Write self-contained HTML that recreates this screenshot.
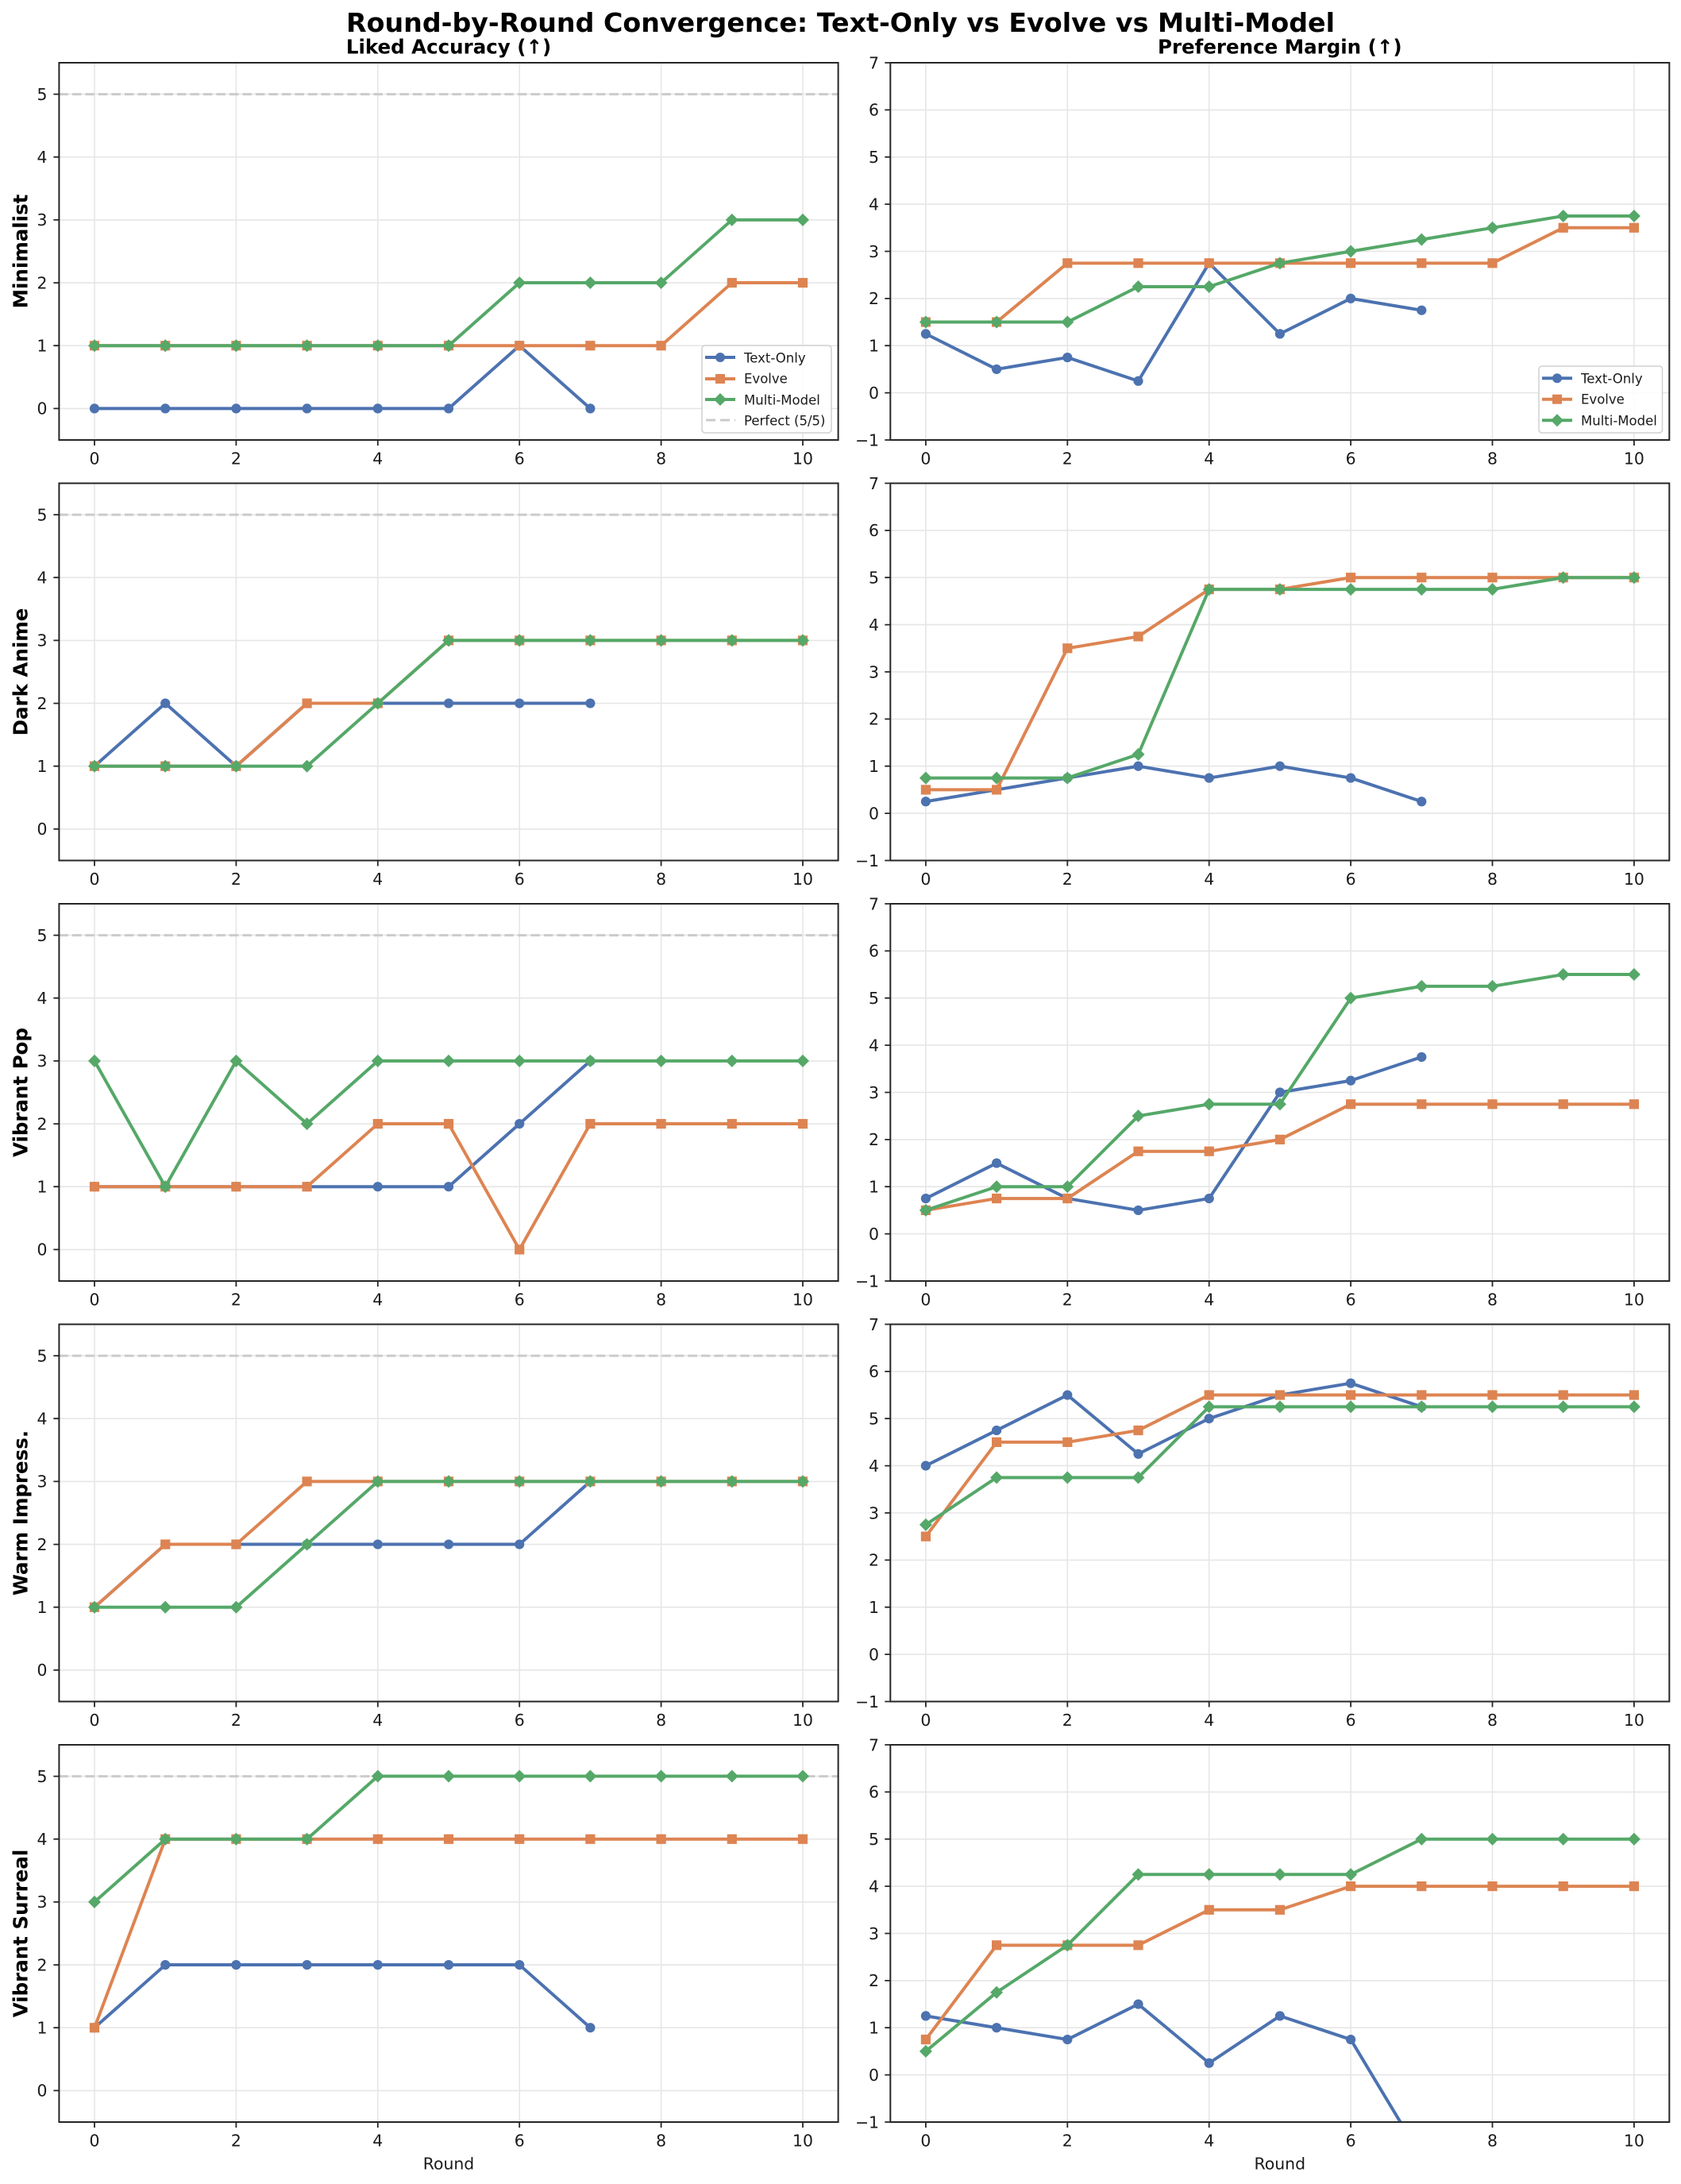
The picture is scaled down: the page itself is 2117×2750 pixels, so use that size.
<!DOCTYPE html>
<html>
<head>
<meta charset="utf-8">
<style>
html,body{margin:0;padding:0;background:#fff;}
svg{display:block;}
.gr{fill:none;stroke:#e6e6e6;stroke-width:1.6;}
.sp{fill:none;stroke:#262626;stroke-width:2;}
.tk{fill:none;stroke:#262626;stroke-width:1.8;}
.tlx{font-family:"DejaVu Sans","Liberation Sans",sans-serif;font-size:20.4px;fill:#1a1a1a;text-anchor:middle;}
.tly{font-family:"DejaVu Sans","Liberation Sans",sans-serif;font-size:20.4px;fill:#1a1a1a;text-anchor:end;}
.rl{font-family:"DejaVu Sans","Liberation Sans",sans-serif;font-size:24.5px;font-weight:bold;fill:#000;text-anchor:middle;}
.ttl{font-family:"DejaVu Sans","Liberation Sans",sans-serif;font-size:24.5px;font-weight:bold;fill:#000;text-anchor:middle;}
.sup{font-family:"DejaVu Sans","Liberation Sans",sans-serif;font-size:33px;font-weight:bold;fill:#000;text-anchor:middle;}
.lg{font-family:"DejaVu Sans","Liberation Sans",sans-serif;font-size:16.5px;fill:#1a1a1a;}
.pf{fill:none;stroke:#cbcbcb;stroke-width:3;stroke-dasharray:11.5 5;}
.s{fill:none;stroke-width:4;stroke-linejoin:round;}
.b{stroke:#4C72B0;}
.o{stroke:#DD8452;}
.g{stroke:#55A868;}
</style>
</head>
<body>
<svg width="2117" height="2750" viewBox="0 0 2117 2750" xmlns="http://www.w3.org/2000/svg">
<defs>
  <marker id="lc" markerUnits="userSpaceOnUse" overflow="visible" style="overflow:visible" refX="0" refY="0" markerWidth="1" markerHeight="1"><ellipse cx="0" cy="0" rx="0.0684" ry="0.0771" fill="#4C72B0"/></marker>
  <marker id="ls" markerUnits="userSpaceOnUse" overflow="visible" style="overflow:visible" refX="0" refY="0" markerWidth="1" markerHeight="1"><rect x="-0.0684" y="-0.0771" width="0.1368" height="0.1541" fill="#DD8452"/></marker>
  <marker id="ld" markerUnits="userSpaceOnUse" overflow="visible" style="overflow:visible" refX="0" refY="0" markerWidth="1" markerHeight="1"><path d="M0 0.1010L0.0897 0L0 -0.1010L-0.0897 0Z" fill="#55A868"/></marker>
  <marker id="rc" markerUnits="userSpaceOnUse" overflow="visible" style="overflow:visible" refX="0" refY="0" markerWidth="1" markerHeight="1"><ellipse cx="0" cy="0" rx="0.0684" ry="0.1027" fill="#4C72B0"/></marker>
  <marker id="rs" markerUnits="userSpaceOnUse" overflow="visible" style="overflow:visible" refX="0" refY="0" markerWidth="1" markerHeight="1"><rect x="-0.0684" y="-0.1027" width="0.1368" height="0.2055" fill="#DD8452"/></marker>
  <marker id="rd" markerUnits="userSpaceOnUse" overflow="visible" style="overflow:visible" refX="0" refY="0" markerWidth="1" markerHeight="1"><path d="M0 0.1347L0.0897 0L0 -0.1347L-0.0897 0Z" fill="#55A868"/></marker>
  <clipPath id="cl" clipPathUnits="userSpaceOnUse"><rect x="-0.5" y="-0.5" width="11" height="6"/></clipPath>
  <clipPath id="cr" clipPathUnits="userSpaceOnUse"><rect x="-0.5" y="-1" width="11" height="8"/></clipPath>

  <g id="frame">
    <path class="gr" d="M119 79V554M297.4 79V554M475.8 79V554M654.2 79V554M832.6 79V554M1011 79V554M74.4 514.4H1055.6M74.4 435.2H1055.6M74.4 356.1H1055.6M74.4 276.9H1055.6M74.4 197.7H1055.6M74.4 118.6H1055.6"/>
    <path class="gr" d="M1165.9 79V554M1344.3 79V554M1522.7 79V554M1701.1 79V554M1879.5 79V554M2057.9 79V554M1121.3 494.6H2102.3M1121.3 435.2H2102.3M1121.3 375.9H2102.3M1121.3 316.5H2102.3M1121.3 257.1H2102.3M1121.3 197.7H2102.3M1121.3 138.4H2102.3"/>
    <path class="tk" d="M67.4 514.4H74.4M67.4 435.2H74.4M67.4 356.1H74.4M67.4 276.9H74.4M67.4 197.7H74.4M67.4 118.6H74.4M119 554V561M297.4 554V561M475.8 554V561M654.2 554V561M832.6 554V561M1011 554V561"/>
    <path class="tk" d="M1114.3 554H1121.3M1114.3 494.6H1121.3M1114.3 435.2H1121.3M1114.3 375.9H1121.3M1114.3 316.5H1121.3M1114.3 257.1H1121.3M1114.3 197.7H1121.3M1114.3 138.4H1121.3M1114.3 79H1121.3M1165.9 554V561M1344.3 554V561M1522.7 554V561M1701.1 554V561M1879.5 554V561M2057.9 554V561"/>
  </g>
  <g id="spines">
    <rect class="sp" x="74.4" y="79" width="981.2" height="475"/>
    <rect class="sp" x="1121.3" y="79" width="981" height="475"/>
  </g>
</defs>

<text class="sup" x="1058.5" y="40" textLength="1245" lengthAdjust="spacingAndGlyphs">Round-by-Round Convergence: Text-Only vs Evolve vs Multi-Model</text>
<text class="ttl" x="565" y="67.3">Liked Accuracy (↑)</text>
<text class="ttl" x="1611.8" y="67.3">Preference Margin (↑)</text>

<!-- ROW 1 -->
<g transform="translate(0,0)">
  <use href="#frame"/>
  <path class="pf" d="M74.4 118.6H1055.6"/>
  <g transform="translate(119,514.4) scale(89.2,-79.17)">
    <g clip-path="url(#cl)">
      <polyline class="s b" vector-effect="non-scaling-stroke" marker-start="url(#lc)" marker-mid="url(#lc)" marker-end="url(#lc)" points="0,0 1,0 2,0 3,0 4,0 5,0 6,1 7,0"/>
      <polyline class="s o" vector-effect="non-scaling-stroke" marker-start="url(#ls)" marker-mid="url(#ls)" marker-end="url(#ls)" points="0,1 1,1 2,1 3,1 4,1 5,1 6,1 7,1 8,1 9,2 10,2"/>
      <polyline class="s g" vector-effect="non-scaling-stroke" marker-start="url(#ld)" marker-mid="url(#ld)" marker-end="url(#ld)" points="0,1 1,1 2,1 3,1 4,1 5,1 6,2 7,2 8,2 9,3 10,3"/>
    </g>
  </g>
  <g transform="translate(1165.9,494.6) scale(89.2,-59.375)">
    <g clip-path="url(#cr)">
      <polyline class="s b" vector-effect="non-scaling-stroke" marker-start="url(#rc)" marker-mid="url(#rc)" marker-end="url(#rc)" points="0,1.25 1,0.5 2,0.75 3,0.25 4,2.75 5,1.25 6,2 7,1.75"/>
      <polyline class="s o" vector-effect="non-scaling-stroke" marker-start="url(#rs)" marker-mid="url(#rs)" marker-end="url(#rs)" points="0,1.5 1,1.5 2,2.75 3,2.75 4,2.75 5,2.75 6,2.75 7,2.75 8,2.75 9,3.5 10,3.5"/>
      <polyline class="s g" vector-effect="non-scaling-stroke" marker-start="url(#rd)" marker-mid="url(#rd)" marker-end="url(#rd)" points="0,1.5 1,1.5 2,1.5 3,2.25 4,2.25 5,2.75 6,3 7,3.25 8,3.5 9,3.75 10,3.75"/>
    </g>
  </g>
  <use href="#spines"/>
  <text class="tly" x="59.5" y="521.7">0</text><text class="tly" x="59.5" y="442.5">1</text><text class="tly" x="59.5" y="363.4">2</text><text class="tly" x="59.5" y="284.2">3</text><text class="tly" x="59.5" y="205">4</text><text class="tly" x="59.5" y="125.9">5</text>
  <text class="tly" x="1107" y="561.3">−1</text><text class="tly" x="1107" y="501.9">0</text><text class="tly" x="1107" y="442.5">1</text><text class="tly" x="1107" y="383.2">2</text><text class="tly" x="1107" y="323.8">3</text><text class="tly" x="1107" y="264.4">4</text><text class="tly" x="1107" y="205">5</text><text class="tly" x="1107" y="145.7">6</text><text class="tly" x="1107" y="86.3">7</text>
  <text class="tlx" x="119" y="584.7">0</text><text class="tlx" x="297.4" y="584.7">2</text><text class="tlx" x="475.8" y="584.7">4</text><text class="tlx" x="654.2" y="584.7">6</text><text class="tlx" x="832.6" y="584.7">8</text><text class="tlx" x="1011" y="584.7">10</text>
  <text class="tlx" x="1165.9" y="584.7">0</text><text class="tlx" x="1344.3" y="584.7">2</text><text class="tlx" x="1522.7" y="584.7">4</text><text class="tlx" x="1701.1" y="584.7">6</text><text class="tlx" x="1879.5" y="584.7">8</text><text class="tlx" x="2057.9" y="584.7">10</text>
  <text class="rl" transform="translate(34.5,316.5) rotate(-90)">Minimalist</text>

  <rect x="884" y="435" width="163" height="110" rx="4" ry="4" fill="#fff" fill-opacity="0.85" stroke="#d0d0d0" stroke-width="1.5"/>
  <path d="M888 450H926" stroke="#4C72B0" stroke-width="4"/><circle cx="907" cy="450" r="6" fill="#4C72B0"/>
  <text class="lg" x="937" y="456.3">Text-Only</text>
  <path d="M888 477H926" stroke="#DD8452" stroke-width="4"/><rect x="901" y="471" width="12" height="12" fill="#DD8452"/>
  <text class="lg" x="937" y="482.7">Evolve</text>
  <path d="M888 503H926" stroke="#55A868" stroke-width="4"/><path d="M907 495L915 503L907 511L899 503Z" fill="#55A868"/>
  <text class="lg" x="937" y="509.3">Multi-Model</text>
  <path d="M889 529H926" stroke="#cbcbcb" stroke-width="3" stroke-dasharray="12 6"/>
  <text class="lg" x="937" y="535.3">Perfect (5/5)</text>

  <rect x="1938" y="461" width="155.5" height="84" rx="4" ry="4" fill="#fff" fill-opacity="0.85" stroke="#d0d0d0" stroke-width="1.5"/>
  <path d="M1942 476.3H1980" stroke="#4C72B0" stroke-width="4"/><circle cx="1961" cy="476.3" r="6" fill="#4C72B0"/>
  <text class="lg" x="1991" y="482.3">Text-Only</text>
  <path d="M1942 502.7H1980" stroke="#DD8452" stroke-width="4"/><rect x="1955" y="496.7" width="12" height="12" fill="#DD8452"/>
  <text class="lg" x="1991" y="508.7">Evolve</text>
  <path d="M1942 529.3H1980" stroke="#55A868" stroke-width="4"/><path d="M1961 521.3L1969 529.3L1961 537.3L1953 529.3Z" fill="#55A868"/>
  <text class="lg" x="1991" y="535.3">Multi-Model</text>
</g>

<!-- ROW 2 -->
<g transform="translate(0,529.5)">
  <use href="#frame"/>
  <path class="pf" d="M74.4 118.6H1055.6"/>
  <g transform="translate(119,514.4) scale(89.2,-79.17)">
    <g clip-path="url(#cl)">
      <polyline class="s b" vector-effect="non-scaling-stroke" marker-start="url(#lc)" marker-mid="url(#lc)" marker-end="url(#lc)" points="0,1 1,2 2,1 3,2 4,2 5,2 6,2 7,2"/>
      <polyline class="s o" vector-effect="non-scaling-stroke" marker-start="url(#ls)" marker-mid="url(#ls)" marker-end="url(#ls)" points="0,1 1,1 2,1 3,2 4,2 5,3 6,3 7,3 8,3 9,3 10,3"/>
      <polyline class="s g" vector-effect="non-scaling-stroke" marker-start="url(#ld)" marker-mid="url(#ld)" marker-end="url(#ld)" points="0,1 1,1 2,1 3,1 4,2 5,3 6,3 7,3 8,3 9,3 10,3"/>
    </g>
  </g>
  <g transform="translate(1165.9,494.6) scale(89.2,-59.375)">
    <g clip-path="url(#cr)">
      <polyline class="s b" vector-effect="non-scaling-stroke" marker-start="url(#rc)" marker-mid="url(#rc)" marker-end="url(#rc)" points="0,0.25 1,0.5 2,0.75 3,1 4,0.75 5,1 6,0.75 7,0.25"/>
      <polyline class="s o" vector-effect="non-scaling-stroke" marker-start="url(#rs)" marker-mid="url(#rs)" marker-end="url(#rs)" points="0,0.5 1,0.5 2,3.5 3,3.75 4,4.75 5,4.75 6,5 7,5 8,5 9,5 10,5"/>
      <polyline class="s g" vector-effect="non-scaling-stroke" marker-start="url(#rd)" marker-mid="url(#rd)" marker-end="url(#rd)" points="0,0.75 1,0.75 2,0.75 3,1.25 4,4.75 5,4.75 6,4.75 7,4.75 8,4.75 9,5 10,5"/>
    </g>
  </g>
  <use href="#spines"/>
  <text class="tly" x="59.5" y="521.7">0</text><text class="tly" x="59.5" y="442.5">1</text><text class="tly" x="59.5" y="363.4">2</text><text class="tly" x="59.5" y="284.2">3</text><text class="tly" x="59.5" y="205">4</text><text class="tly" x="59.5" y="125.9">5</text>
  <text class="tly" x="1107" y="561.3">−1</text><text class="tly" x="1107" y="501.9">0</text><text class="tly" x="1107" y="442.5">1</text><text class="tly" x="1107" y="383.2">2</text><text class="tly" x="1107" y="323.8">3</text><text class="tly" x="1107" y="264.4">4</text><text class="tly" x="1107" y="205">5</text><text class="tly" x="1107" y="145.7">6</text><text class="tly" x="1107" y="86.3">7</text>
  <text class="tlx" x="119" y="584.7">0</text><text class="tlx" x="297.4" y="584.7">2</text><text class="tlx" x="475.8" y="584.7">4</text><text class="tlx" x="654.2" y="584.7">6</text><text class="tlx" x="832.6" y="584.7">8</text><text class="tlx" x="1011" y="584.7">10</text>
  <text class="tlx" x="1165.9" y="584.7">0</text><text class="tlx" x="1344.3" y="584.7">2</text><text class="tlx" x="1522.7" y="584.7">4</text><text class="tlx" x="1701.1" y="584.7">6</text><text class="tlx" x="1879.5" y="584.7">8</text><text class="tlx" x="2057.9" y="584.7">10</text>
  <text class="rl" transform="translate(34.5,316.5) rotate(-90)">Dark Anime</text>
</g>

<!-- ROW 3 -->
<g transform="translate(0,1059)">
  <use href="#frame"/>
  <path class="pf" d="M74.4 118.6H1055.6"/>
  <g transform="translate(119,514.4) scale(89.2,-79.17)">
    <g clip-path="url(#cl)">
      <polyline class="s b" vector-effect="non-scaling-stroke" marker-start="url(#lc)" marker-mid="url(#lc)" marker-end="url(#lc)" points="0,1 1,1 2,1 3,1 4,1 5,1 6,2 7,3"/>
      <polyline class="s o" vector-effect="non-scaling-stroke" marker-start="url(#ls)" marker-mid="url(#ls)" marker-end="url(#ls)" points="0,1 1,1 2,1 3,1 4,2 5,2 6,0 7,2 8,2 9,2 10,2"/>
      <polyline class="s g" vector-effect="non-scaling-stroke" marker-start="url(#ld)" marker-mid="url(#ld)" marker-end="url(#ld)" points="0,3 1,1 2,3 3,2 4,3 5,3 6,3 7,3 8,3 9,3 10,3"/>
    </g>
  </g>
  <g transform="translate(1165.9,494.6) scale(89.2,-59.375)">
    <g clip-path="url(#cr)">
      <polyline class="s b" vector-effect="non-scaling-stroke" marker-start="url(#rc)" marker-mid="url(#rc)" marker-end="url(#rc)" points="0,0.75 1,1.5 2,0.75 3,0.5 4,0.75 5,3 6,3.25 7,3.75"/>
      <polyline class="s o" vector-effect="non-scaling-stroke" marker-start="url(#rs)" marker-mid="url(#rs)" marker-end="url(#rs)" points="0,0.5 1,0.75 2,0.75 3,1.75 4,1.75 5,2 6,2.75 7,2.75 8,2.75 9,2.75 10,2.75"/>
      <polyline class="s g" vector-effect="non-scaling-stroke" marker-start="url(#rd)" marker-mid="url(#rd)" marker-end="url(#rd)" points="0,0.5 1,1 2,1 3,2.5 4,2.75 5,2.75 6,5 7,5.25 8,5.25 9,5.5 10,5.5"/>
    </g>
  </g>
  <use href="#spines"/>
  <text class="tly" x="59.5" y="521.7">0</text><text class="tly" x="59.5" y="442.5">1</text><text class="tly" x="59.5" y="363.4">2</text><text class="tly" x="59.5" y="284.2">3</text><text class="tly" x="59.5" y="205">4</text><text class="tly" x="59.5" y="125.9">5</text>
  <text class="tly" x="1107" y="561.3">−1</text><text class="tly" x="1107" y="501.9">0</text><text class="tly" x="1107" y="442.5">1</text><text class="tly" x="1107" y="383.2">2</text><text class="tly" x="1107" y="323.8">3</text><text class="tly" x="1107" y="264.4">4</text><text class="tly" x="1107" y="205">5</text><text class="tly" x="1107" y="145.7">6</text><text class="tly" x="1107" y="86.3">7</text>
  <text class="tlx" x="119" y="584.7">0</text><text class="tlx" x="297.4" y="584.7">2</text><text class="tlx" x="475.8" y="584.7">4</text><text class="tlx" x="654.2" y="584.7">6</text><text class="tlx" x="832.6" y="584.7">8</text><text class="tlx" x="1011" y="584.7">10</text>
  <text class="tlx" x="1165.9" y="584.7">0</text><text class="tlx" x="1344.3" y="584.7">2</text><text class="tlx" x="1522.7" y="584.7">4</text><text class="tlx" x="1701.1" y="584.7">6</text><text class="tlx" x="1879.5" y="584.7">8</text><text class="tlx" x="2057.9" y="584.7">10</text>
  <text class="rl" transform="translate(34.5,316.5) rotate(-90)">Vibrant Pop</text>
</g>

<!-- ROW 4 -->
<g transform="translate(0,1588.5)">
  <use href="#frame"/>
  <path class="pf" d="M74.4 118.6H1055.6"/>
  <g transform="translate(119,514.4) scale(89.2,-79.17)">
    <g clip-path="url(#cl)">
      <polyline class="s b" vector-effect="non-scaling-stroke" marker-start="url(#lc)" marker-mid="url(#lc)" marker-end="url(#lc)" points="0,1 1,2 2,2 3,2 4,2 5,2 6,2 7,3"/>
      <polyline class="s o" vector-effect="non-scaling-stroke" marker-start="url(#ls)" marker-mid="url(#ls)" marker-end="url(#ls)" points="0,1 1,2 2,2 3,3 4,3 5,3 6,3 7,3 8,3 9,3 10,3"/>
      <polyline class="s g" vector-effect="non-scaling-stroke" marker-start="url(#ld)" marker-mid="url(#ld)" marker-end="url(#ld)" points="0,1 1,1 2,1 3,2 4,3 5,3 6,3 7,3 8,3 9,3 10,3"/>
    </g>
  </g>
  <g transform="translate(1165.9,494.6) scale(89.2,-59.375)">
    <g clip-path="url(#cr)">
      <polyline class="s b" vector-effect="non-scaling-stroke" marker-start="url(#rc)" marker-mid="url(#rc)" marker-end="url(#rc)" points="0,4 1,4.75 2,5.5 3,4.25 4,5 5,5.5 6,5.75 7,5.25"/>
      <polyline class="s o" vector-effect="non-scaling-stroke" marker-start="url(#rs)" marker-mid="url(#rs)" marker-end="url(#rs)" points="0,2.5 1,4.5 2,4.5 3,4.75 4,5.5 5,5.5 6,5.5 7,5.5 8,5.5 9,5.5 10,5.5"/>
      <polyline class="s g" vector-effect="non-scaling-stroke" marker-start="url(#rd)" marker-mid="url(#rd)" marker-end="url(#rd)" points="0,2.75 1,3.75 2,3.75 3,3.75 4,5.25 5,5.25 6,5.25 7,5.25 8,5.25 9,5.25 10,5.25"/>
    </g>
  </g>
  <use href="#spines"/>
  <text class="tly" x="59.5" y="521.7">0</text><text class="tly" x="59.5" y="442.5">1</text><text class="tly" x="59.5" y="363.4">2</text><text class="tly" x="59.5" y="284.2">3</text><text class="tly" x="59.5" y="205">4</text><text class="tly" x="59.5" y="125.9">5</text>
  <text class="tly" x="1107" y="561.3">−1</text><text class="tly" x="1107" y="501.9">0</text><text class="tly" x="1107" y="442.5">1</text><text class="tly" x="1107" y="383.2">2</text><text class="tly" x="1107" y="323.8">3</text><text class="tly" x="1107" y="264.4">4</text><text class="tly" x="1107" y="205">5</text><text class="tly" x="1107" y="145.7">6</text><text class="tly" x="1107" y="86.3">7</text>
  <text class="tlx" x="119" y="584.7">0</text><text class="tlx" x="297.4" y="584.7">2</text><text class="tlx" x="475.8" y="584.7">4</text><text class="tlx" x="654.2" y="584.7">6</text><text class="tlx" x="832.6" y="584.7">8</text><text class="tlx" x="1011" y="584.7">10</text>
  <text class="tlx" x="1165.9" y="584.7">0</text><text class="tlx" x="1344.3" y="584.7">2</text><text class="tlx" x="1522.7" y="584.7">4</text><text class="tlx" x="1701.1" y="584.7">6</text><text class="tlx" x="1879.5" y="584.7">8</text><text class="tlx" x="2057.9" y="584.7">10</text>
  <text class="rl" transform="translate(34.5,316.5) rotate(-90)">Warm Impress.</text>
</g>

<!-- ROW 5 -->
<g transform="translate(0,2118)">
  <use href="#frame"/>
  <path class="pf" d="M74.4 118.6H1055.6"/>
  <g transform="translate(119,514.4) scale(89.2,-79.17)">
    <g clip-path="url(#cl)">
      <polyline class="s b" vector-effect="non-scaling-stroke" marker-start="url(#lc)" marker-mid="url(#lc)" marker-end="url(#lc)" points="0,1 1,2 2,2 3,2 4,2 5,2 6,2 7,1"/>
      <polyline class="s o" vector-effect="non-scaling-stroke" marker-start="url(#ls)" marker-mid="url(#ls)" marker-end="url(#ls)" points="0,1 1,4 2,4 3,4 4,4 5,4 6,4 7,4 8,4 9,4 10,4"/>
      <polyline class="s g" vector-effect="non-scaling-stroke" marker-start="url(#ld)" marker-mid="url(#ld)" marker-end="url(#ld)" points="0,3 1,4 2,4 3,4 4,5 5,5 6,5 7,5 8,5 9,5 10,5"/>
    </g>
  </g>
  <g transform="translate(1165.9,494.6) scale(89.2,-59.375)">
    <g clip-path="url(#cr)">
      <polyline class="s b" vector-effect="non-scaling-stroke" marker-start="url(#rc)" marker-mid="url(#rc)" marker-end="url(#rc)" points="0,1.25 1,1 2,0.75 3,1.5 4,0.25 5,1.25 6,0.75 7,-1.75"/>
      <polyline class="s o" vector-effect="non-scaling-stroke" marker-start="url(#rs)" marker-mid="url(#rs)" marker-end="url(#rs)" points="0,0.75 1,2.75 2,2.75 3,2.75 4,3.5 5,3.5 6,4 7,4 8,4 9,4 10,4"/>
      <polyline class="s g" vector-effect="non-scaling-stroke" marker-start="url(#rd)" marker-mid="url(#rd)" marker-end="url(#rd)" points="0,0.5 1,1.75 2,2.75 3,4.25 4,4.25 5,4.25 6,4.25 7,5 8,5 9,5 10,5"/>
    </g>
  </g>
  <use href="#spines"/>
  <text class="tly" x="59.5" y="521.7">0</text><text class="tly" x="59.5" y="442.5">1</text><text class="tly" x="59.5" y="363.4">2</text><text class="tly" x="59.5" y="284.2">3</text><text class="tly" x="59.5" y="205">4</text><text class="tly" x="59.5" y="125.9">5</text>
  <text class="tly" x="1107" y="561.3">−1</text><text class="tly" x="1107" y="501.9">0</text><text class="tly" x="1107" y="442.5">1</text><text class="tly" x="1107" y="383.2">2</text><text class="tly" x="1107" y="323.8">3</text><text class="tly" x="1107" y="264.4">4</text><text class="tly" x="1107" y="205">5</text><text class="tly" x="1107" y="145.7">6</text><text class="tly" x="1107" y="86.3">7</text>
  <text class="tlx" x="119" y="584.7">0</text><text class="tlx" x="297.4" y="584.7">2</text><text class="tlx" x="475.8" y="584.7">4</text><text class="tlx" x="654.2" y="584.7">6</text><text class="tlx" x="832.6" y="584.7">8</text><text class="tlx" x="1011" y="584.7">10</text>
  <text class="tlx" x="1165.9" y="584.7">0</text><text class="tlx" x="1344.3" y="584.7">2</text><text class="tlx" x="1522.7" y="584.7">4</text><text class="tlx" x="1701.1" y="584.7">6</text><text class="tlx" x="1879.5" y="584.7">8</text><text class="tlx" x="2057.9" y="584.7">10</text>
  <text class="rl" transform="translate(34.5,316.5) rotate(-90)">Vibrant Surreal</text>
  <text class="tlx" x="565" y="613.7">Round</text>
  <text class="tlx" x="1611.8" y="613.7">Round</text>
</g>
</svg>
</body>
</html>
